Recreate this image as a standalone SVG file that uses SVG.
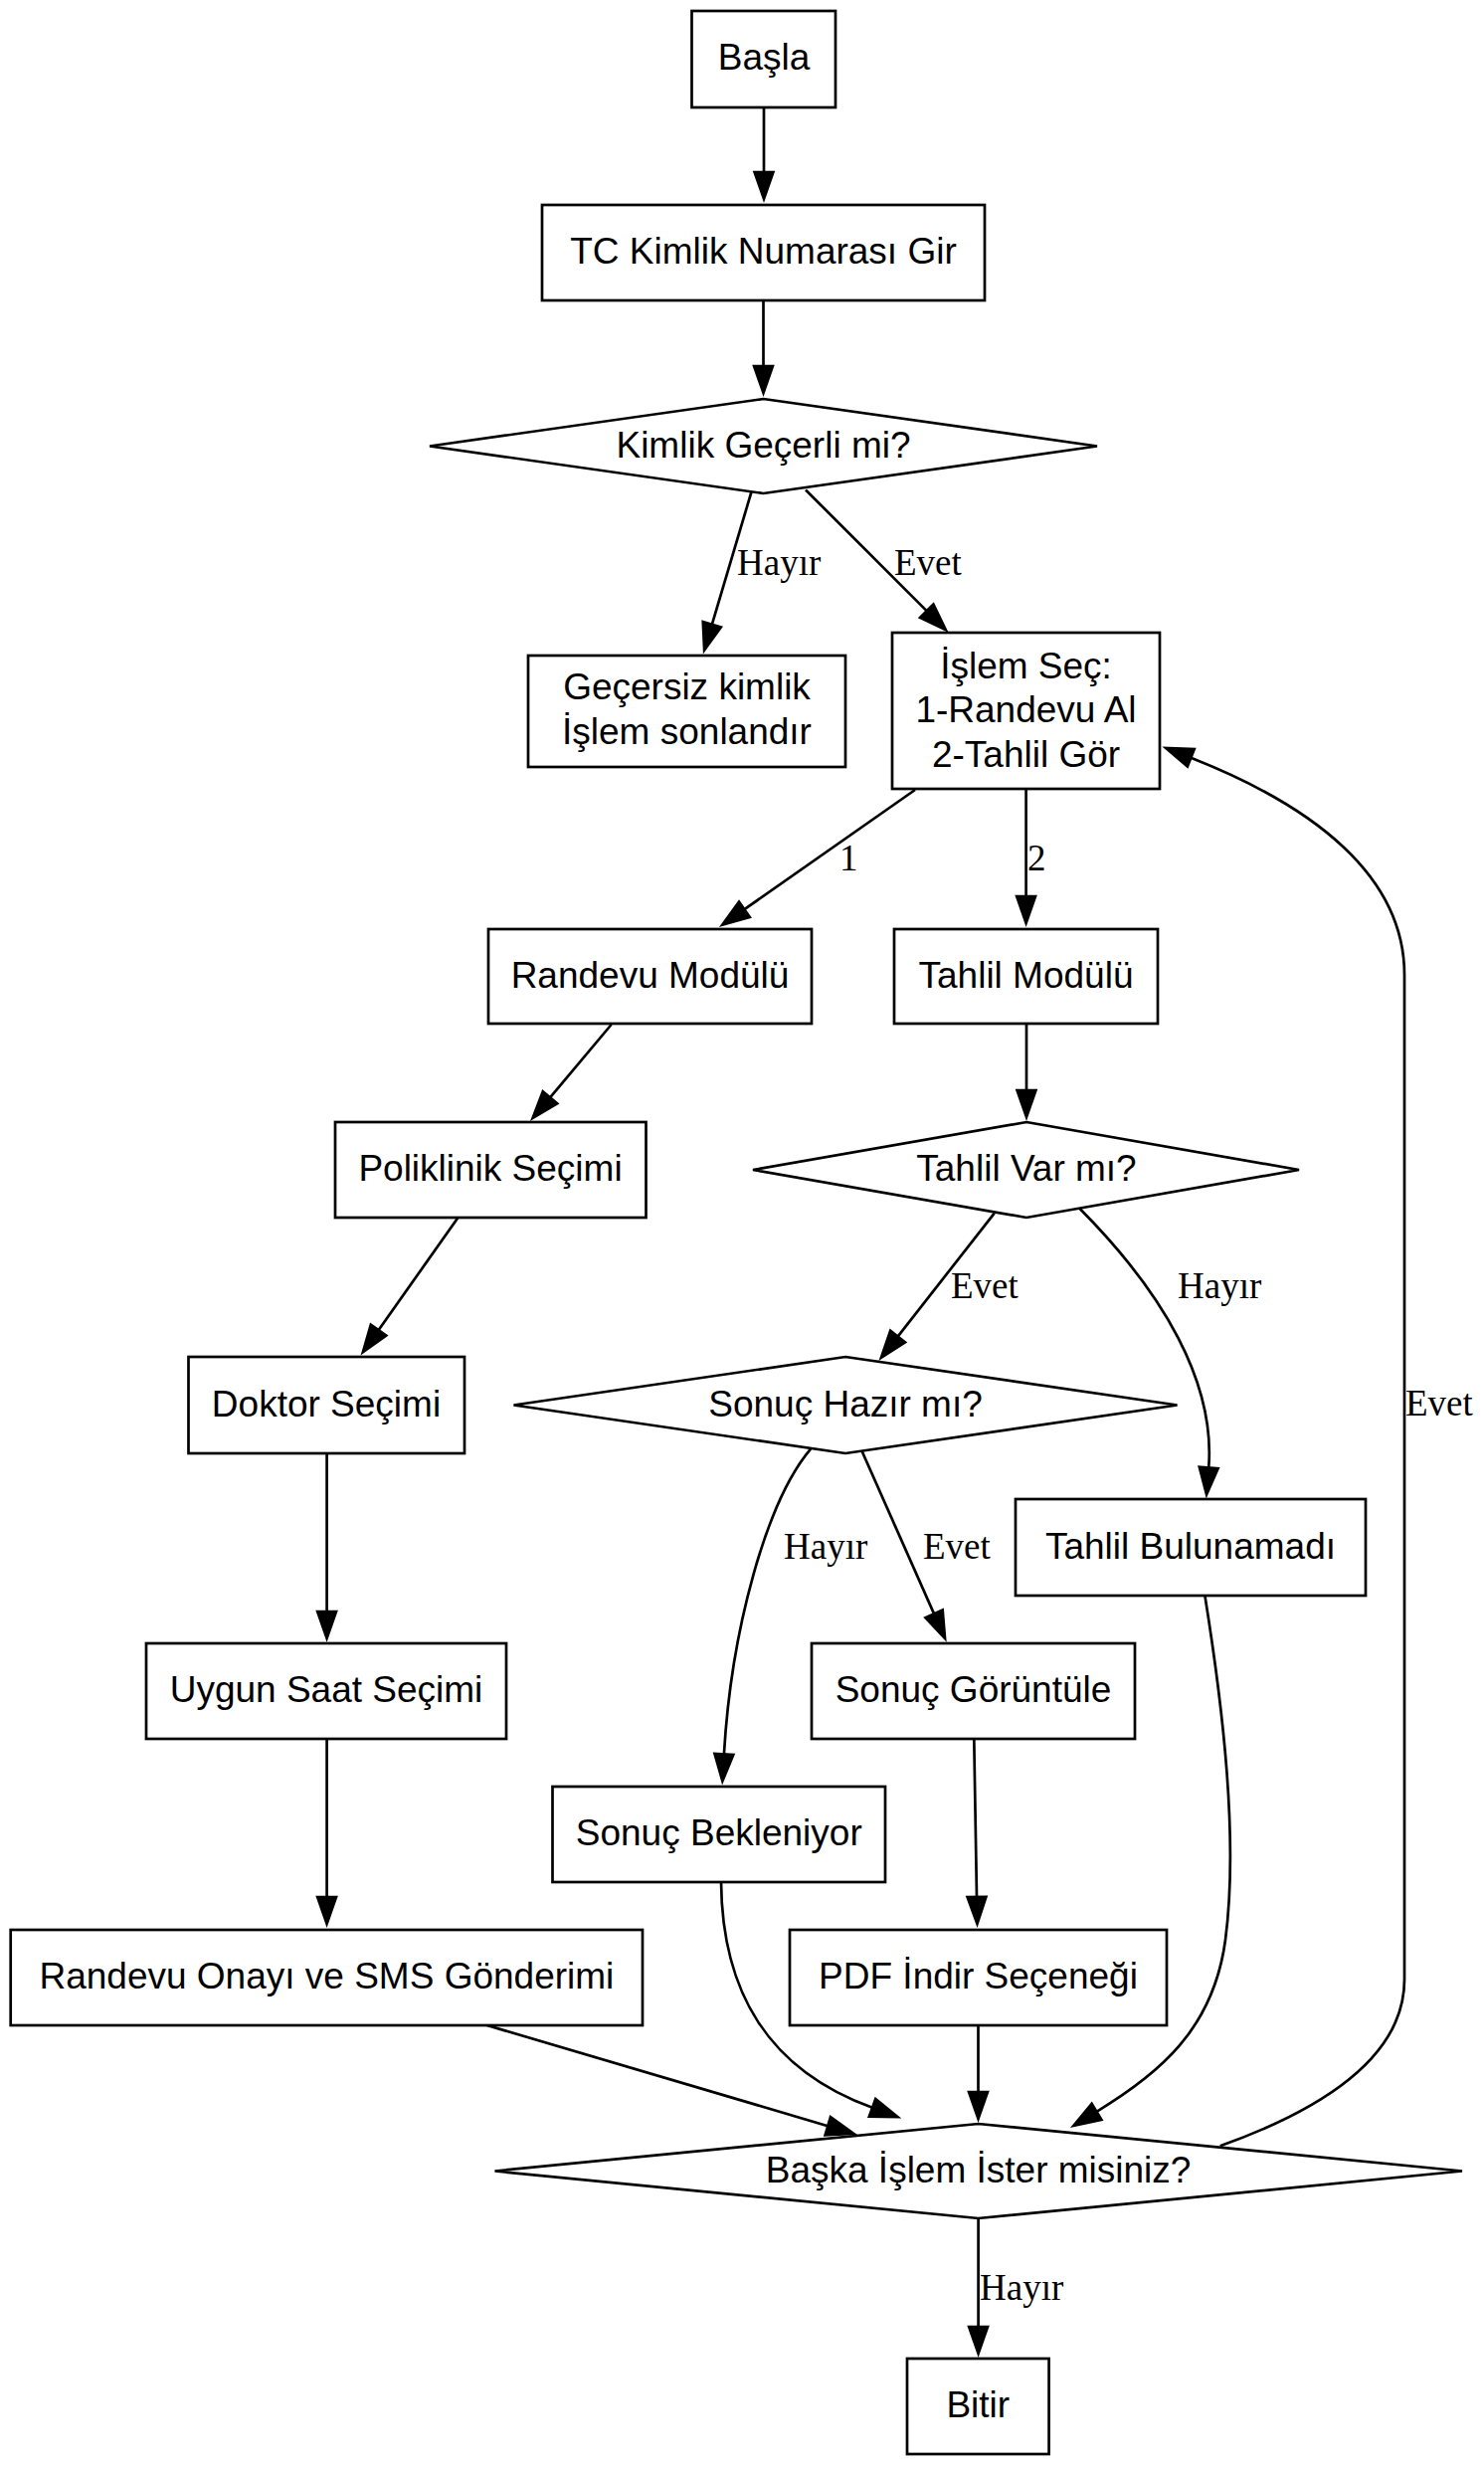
<svg xmlns="http://www.w3.org/2000/svg" width="1492" height="2480" viewBox="0 0 1492 2480">
<style>
.n{fill:#fff;stroke:#000;stroke-width:2.7}
.t{font-family:"Liberation Sans",Arial,sans-serif;font-size:37px;text-anchor:middle;fill:#000}
.e{fill:none;stroke:#000;stroke-width:2.7}
.l{font-family:"Liberation Serif","Times New Roman",serif;font-size:37px;fill:#000}
</style>
<defs>
<marker id="arr" markerUnits="userSpaceOnUse" markerWidth="40" markerHeight="30" refX="0" refY="9.4" orient="auto" overflow="visible">
<path d="M0,0 L27,9.4 L0,18.8 Z" fill="#000" stroke="#000" stroke-width="2.7"/>
</marker>
</defs>
<rect width="1492" height="2480" fill="#fff"/>
<g id="edges">
<path class="e" marker-end="url(#arr)" d="M768,108 L768,173"/>
<path class="e" marker-end="url(#arr)" d="M767.5,302 L767.5,368"/>
<path class="e" marker-end="url(#arr)" d="M755.6,494 L715.8,627.8"/>
<text class="l" x="741" y="578">Hayır</text>
<path class="e" marker-end="url(#arr)" d="M810,492.5 L931.7,614.1"/>
<text class="l" x="899" y="578">Evet</text>
<path class="e" marker-end="url(#arr)" d="M920,794 L748.4,914.2"/>
<text class="l" x="844" y="875">1</text>
<path class="e" marker-end="url(#arr)" d="M1031.6,794 L1031.6,901"/>
<text class="l" x="1033" y="875">2</text>
<path class="e" marker-end="url(#arr)" d="M614.6,1030 L553,1103.3"/>
<path class="e" marker-end="url(#arr)" d="M460.5,1224 L380.5,1337.2"/>
<path class="e" marker-end="url(#arr)" d="M328.6,1461 L328.6,1620"/>
<path class="e" marker-end="url(#arr)" d="M328.6,1748 L328.6,1907"/>
<path class="e" marker-end="url(#arr)" d="M489.6,2036 L832.3,2137.2"/>
<path class="e" marker-end="url(#arr)" d="M1032,1029 L1032,1096"/>
<path class="e" marker-end="url(#arr)" d="M999.7,1219.6 L902.6,1343.6"/>
<text class="l" x="956" y="1305">Evet</text>
<path class="e" marker-end="url(#arr)" d="M1085.6,1215 C1170,1300 1222,1390 1215.2,1475.5"/>
<text class="l" x="1184" y="1305">Hayır</text>
<path class="e" marker-end="url(#arr)" d="M815,1456.7 C770,1510 735,1640 727.9,1763.5"/>
<text class="l" x="788" y="1567">Hayır</text>
<path class="e" marker-end="url(#arr)" d="M866.7,1459 L939.1,1622.4"/>
<text class="l" x="928" y="1567">Evet</text>
<path class="e" marker-end="url(#arr)" d="M1211.4,1604 C1230,1720 1245,1850 1232,1950 C1220,2040 1165,2085 1102.5,2122.8"/>
<path class="e" marker-end="url(#arr)" d="M979.3,1748 L982,1907"/>
<path class="e" marker-end="url(#arr)" d="M725,1892 C726,2000 770,2080 877.1,2118.8"/>
<path class="e" marker-end="url(#arr)" d="M983.5,2036 L983.5,2103"/>
<path class="e" marker-end="url(#arr)" d="M1226.7,2157.3 C1345,2115 1412,2060 1412,1990 L1412,980 C1412,880 1320,810 1197.3,761.8"/>
<text class="l" x="1413" y="1423">Evet</text>
<path class="e" marker-end="url(#arr)" d="M983.6,2230 L983.6,2339"/>
<text class="l" x="985" y="2312">Hayır</text>
</g>
<g id="n_basla"><rect class="n" x="695.5" y="11" width="144.5" height="97"/><text class="t" x="768" y="70">Başla</text></g>
<g id="n_tc"><rect class="n" x="545" y="206" width="445" height="96"/><text class="t" x="767.5" y="265">TC Kimlik Numarası Gir</text></g>
<g id="n_kimlik"><polygon class="n" points="767.5,401 1103,448.5 767.5,496 432,448.5"/><text class="t" x="767.5" y="459.5">Kimlik Geçerli mi?</text></g>
<g id="n_gecersiz"><rect class="n" x="531" y="659" width="319" height="112"/><text class="t" x="690.5" y="703">Geçersiz kimlik</text><text class="t" x="690.5" y="748">İşlem sonlandır</text></g>
<g id="n_islem"><rect class="n" x="897" y="636" width="269" height="157"/><text class="t" x="1031.5" y="682">İşlem Seç:</text><text class="t" x="1031.5" y="726">1-Randevu Al</text><text class="t" x="1031.5" y="771">2-Tahlil Gör</text></g>
<g id="n_randevu"><rect class="n" x="491" y="934" width="325" height="95"/><text class="t" x="653.5" y="992.5">Randevu Modülü</text></g>
<g id="n_tahlil"><rect class="n" x="899" y="934" width="265" height="95"/><text class="t" x="1031.5" y="992.5">Tahlil Modülü</text></g>
<g id="n_poliklinik"><rect class="n" x="337" y="1128" width="312.5" height="96"/><text class="t" x="493" y="1187">Poliklinik Seçimi</text></g>
<g id="n_tahlilvar"><polygon class="n" points="1032,1128 1306,1176 1032,1224 757,1176"/><text class="t" x="1032" y="1187">Tahlil Var mı?</text></g>
<g id="n_doktor"><rect class="n" x="189.5" y="1364" width="277.5" height="97"/><text class="t" x="328" y="1423.5">Doktor Seçimi</text></g>
<g id="n_sonuchazir"><polygon class="n" points="850,1364 1183.5,1412.5 850,1461 516.5,1412.5"/><text class="t" x="850" y="1423.5">Sonuç Hazır mı?</text></g>
<g id="n_bulunamadi"><rect class="n" x="1021" y="1507" width="352" height="97"/><text class="t" x="1197" y="1566.5">Tahlil Bulunamadı</text></g>
<g id="n_uygun"><rect class="n" x="147" y="1652" width="362" height="96"/><text class="t" x="328" y="1711">Uygun Saat Seçimi</text></g>
<g id="n_goruntule"><rect class="n" x="816" y="1652" width="325" height="96"/><text class="t" x="978.5" y="1711">Sonuç Görüntüle</text></g>
<g id="n_bekleniyor"><rect class="n" x="555.5" y="1796" width="334.5" height="96"/><text class="t" x="722.75" y="1855">Sonuç Bekleniyor</text></g>
<g id="n_onay"><rect class="n" x="10.7" y="1940" width="635.3" height="96"/><text class="t" x="328.4" y="1999">Randevu Onayı ve SMS Gönderimi</text></g>
<g id="n_pdf"><rect class="n" x="794" y="1940" width="379" height="96"/><text class="t" x="983.5" y="1999">PDF İndir Seçeneği</text></g>
<g id="n_baska"><polygon class="n" points="983.6,2135 1470,2182.5 983.6,2230 497.5,2182.5"/><text class="t" x="983.6" y="2193.5">Başka İşlem İster misiniz?</text></g>
<g id="n_bitir"><rect class="n" x="912" y="2371" width="142.6" height="96"/><text class="t" x="983.3" y="2430">Bitir</text></g>
</svg>
